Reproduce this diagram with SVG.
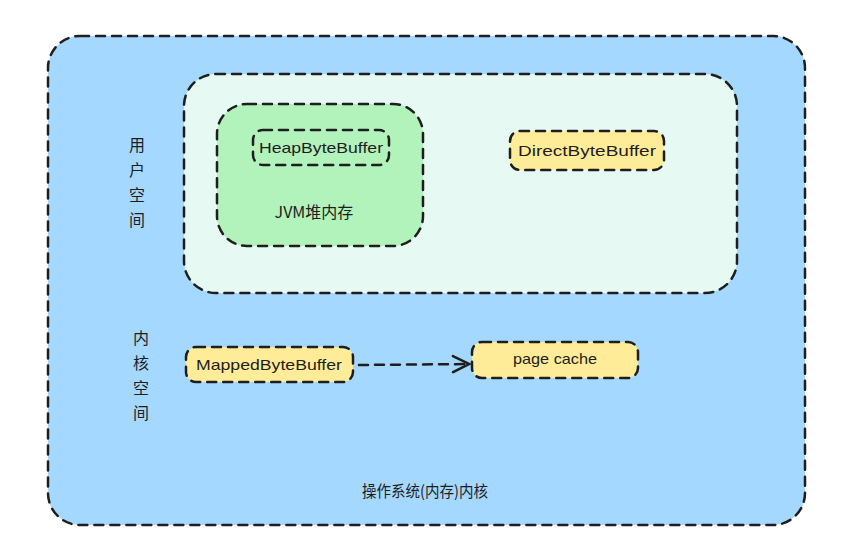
<svg xmlns="http://www.w3.org/2000/svg" width="847" height="550" viewBox="0 0 847 550">
<style>
.b{stroke:#1e1e1e;stroke-width:2.5;stroke-dasharray:9 7;stroke-linecap:round}
.t{font-family:"Liberation Sans","Noto Sans CJK SC",sans-serif;font-size:15px;fill:#1e1e1e}
.c{font-family:"Noto Sans CJK SC","Liberation Sans",sans-serif;font-size:16px;fill:#1e1e1e}
</style>
<defs>
<marker id="ah" viewBox="0 0 20 20" refX="18" refY="10" markerWidth="20" markerHeight="20" markerUnits="userSpaceOnUse" orient="auto">
<path d="M2 2 L18 10 L2 18" fill="none" stroke="#1e1e1e" stroke-width="2.5" stroke-linecap="round"/>
</marker>
</defs>
<rect width="847" height="550" fill="#ffffff"/>
<g id="os">
<rect class="b" x="48" y="36" width="757" height="489" rx="32" fill="#a5d8ff"/>
<text class="c" x="425" y="497" text-anchor="middle" font-size="13" textLength="126" lengthAdjust="spacingAndGlyphs">操作系统(内存)内核</text>
</g>
<g id="user">
<rect class="b" x="184" y="74" width="553" height="219" rx="32" fill="#e6f9f3"/>
</g>
<g id="userlabel">
<text class="c" x="137" y="151" text-anchor="middle">用</text>
<text class="c" x="137" y="176" text-anchor="middle">户</text>
<text class="c" x="137" y="201" text-anchor="middle">空</text>
<text class="c" x="137" y="226" text-anchor="middle">间</text>
</g>
<g id="kernellabel">
<text class="c" x="141" y="344" text-anchor="middle">内</text>
<text class="c" x="141" y="369" text-anchor="middle">核</text>
<text class="c" x="141" y="394" text-anchor="middle">空</text>
<text class="c" x="141" y="419" text-anchor="middle">间</text>
</g>
<g id="jvm">
<rect class="b" x="217" y="104" width="206" height="142" rx="30" fill="#b2f2bb"/>
<text class="c" x="314" y="218" text-anchor="middle" font-size="14">JVM堆内存</text>
</g>
<g id="heap">
<rect class="b" x="253" y="130" width="136" height="35" rx="10" fill="#b2f2bb"/>
<text class="t" x="321" y="153" text-anchor="middle" textLength="124" lengthAdjust="spacingAndGlyphs">HeapByteBuffer</text>
</g>
<g id="direct">
<rect class="b" x="510" y="131" width="154" height="39" rx="10" fill="#ffec99"/>
<text class="t" x="587" y="156" text-anchor="middle" textLength="138" lengthAdjust="spacingAndGlyphs">DirectByteBuffer</text>
</g>
<g id="mapped">
<rect class="b" x="186" y="347" width="167" height="35" rx="10" fill="#ffec99"/>
<text class="t" x="269" y="370" text-anchor="middle" textLength="146" lengthAdjust="spacingAndGlyphs">MappedByteBuffer</text>
</g>
<g id="pagecache">
<rect class="b" x="472" y="342" width="166" height="36" rx="10" fill="#ffec99"/>
<text class="t" x="555" y="364" text-anchor="middle" textLength="84" lengthAdjust="spacingAndGlyphs">page cache</text>
</g>
<g id="connectors">
<path class="b" d="M359 365 L469 364" fill="none" marker-end="url(#ah)"/>
</g>
</svg>
